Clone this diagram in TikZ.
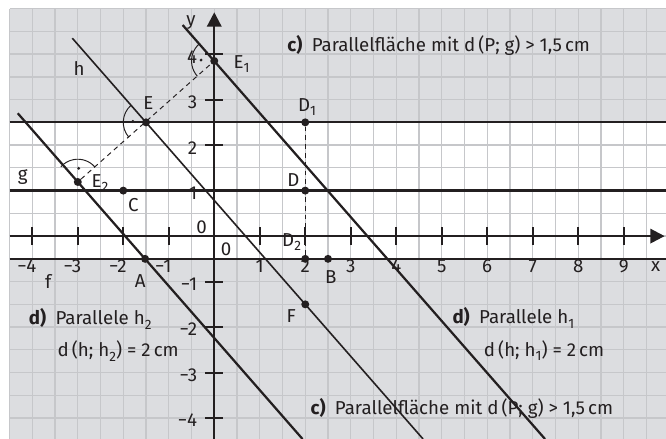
\documentclass[tikz,border=0pt]{standalone}
\usepackage{fontspec}
\setmainfont{Fira Sans}
\usetikzlibrary{arrows.meta, calc}
\definecolor{shadegray}{RGB}{220,221,224}
\definecolor{gridgray}{RGB}{198,199,202}
\definecolor{ink}{RGB}{35,31,32}
\newcommand{\idx}[1]{\raisebox{-0.45ex}{\fontsize{8.5}{8.5}\selectfont #1}}

\begin{document}
\begin{tikzpicture}[x=1cm, y=1cm,
  gridline/.style={gridgray, line width=0.8pt},
  bigline/.style={ink, line width=1.4pt},
  thinline/.style={ink, line width=1pt},
  axisline/.style={ink, line width=1.5pt},
  tickline/.style={ink, line width=1.3pt},
  helpline/.style={ink, line width=0.6pt, dash pattern=on 3pt off 2.5pt},
  rightangle/.style={ink, line width=0.6pt},
  pt/.style={circle, fill=ink, inner sep=0pt, minimum size=5pt},
  lbl/.style={font=\fontsize{11.7}{14}\selectfont, text=ink, inner sep=0pt}]
  \useasboundingbox (-4.71,-4.46) rectangle (9.93,5.19);
  % shaded half planes and grid
  \fill[shadegray] (-4.5,2.5) rectangle (9.93,5);
  \fill[shadegray] (-4.5,-4.46) rectangle (9.93,-0.5);
  \draw[gridline] (-4.5,-4.46) grid[step=0.5] (9.93,5);
  % axes
  \draw[axisline, -{Triangle[length=9pt, width=9pt]}] (-4.5,0) -- (9.9,0);
  \draw[axisline, -{Triangle[length=9pt, width=9pt]}] (0,-4.46) -- (0,4.92);
  \foreach \x in {-4,...,-1,1,2,...,9}
    \draw[tickline] (\x,-0.2) -- (\x,0.2);
  \foreach \y in {-4,...,-1,1,2,3,4}
    \draw[tickline] (-0.2,\y) -- (0.2,\y);
  \foreach \x in {1,...,9}
    \node[lbl] (xp\x) at (\x,-0.67) {\x};
  \foreach \x in {1,...,4}
    \node[lbl] (xn\x) at (-\x-0.12,-0.67) {−\x};
  \foreach \y in {1,...,4}
    \node[lbl, anchor=east] (yp\y) at (-0.37,\y-0.06) {\y};
  \foreach \y in {1,...,4}
    \node[lbl, anchor=east] (yn\y) at (-0.37,-\y-0.05) {−\y};
  \node[lbl] (zero1) at (-0.28,0.2) {0};
  \node[lbl] (zero2) at (0.26,-0.29) {0};
  \node[lbl] (xlab) at (9.7,-0.67) {x};
  \node[lbl] (ylab) at (-0.51,4.7) {y};
  % parallels g, f and border of the strip
  \draw[bigline] (-4.5,2.5) -- (9.93,2.5);
  \draw[bigline] (-4.5,1) -- (9.93,1);
  \draw[bigline] (-4.5,-0.5) -- (9.93,-0.5);
  % line h and its parallels h1, h2
  \coordinate (h-a) at (-3.12,4.35);
  \coordinate (h-b) at (4.59,-4.46);
  \coordinate (h1-a) at (-0.695,4.64);
  \coordinate (h1-b) at (7.27,-4.46);
  \coordinate (h2-a) at (-4.32,2.70);
  \coordinate (h2-b) at (1.94,-4.46);
  \draw[thinline] (h-a) -- (h-b);
  \draw[bigline] (h1-a) -- (h1-b);
  \draw[bigline] (h2-a) -- (h2-b);
  \node[lbl] (hlab) at (-2.97,3.69) {h};
  \node[lbl] (glab) at (-4.21,1.3) {g};
  \node[lbl] (flab) at (-3.65,-0.99) {f};
  % points
  \node[pt] (E) at (-1.5,2.5) {};
  \node[pt] (E1) at (0,3.85) {};
  \node[pt] (E2) at (-3,1.19) {};
  \node[pt] (A) at (-1.52,-0.5) {};
  \node[pt] (B) at (2.5,-0.5) {};
  \node[pt] (C) at (-2,1) {};
  \node[pt] (D) at (2,1) {};
  \node[pt] (D1) at (2,2.5) {};
  \node[pt] (D2) at (2,-0.5) {};
  \node[pt] (F) at (2,-1.5) {};
  \draw[helpline] (E2) -- (E1);
  \draw[helpline] (D1) -- (D2);
  % right angles
  \draw[rightangle] ($(E)+(131.2:0.5)$) arc[start angle=131.2, end angle=221.1, radius=0.5];
  \fill[ink] ($(E)+(176:0.29)$) circle (1pt);
  \draw[rightangle] ($(E1)+(131.2:0.5)$) arc[start angle=131.2, end angle=222, radius=0.5];
  \fill[ink] ($(E1)+(176:0.29)$) circle (1pt);
  \draw[rightangle] ($(E2)+(41.1:0.5)$) arc[start angle=41.1, end angle=138, radius=0.5];
  \fill[ink] ($(E2)+(86:0.3)$) circle (1pt);
  % point labels
  \node[lbl] (lE) at (-1.45,2.92) {E};
  \node[lbl] (lE1) at (0.6,3.78) {E\idx{1}};
  \node[lbl] (lE2) at (-2.51,1.16) {E\idx{2}};
  \node[lbl] (lA) at (-1.63,-0.99) {A};
  \node[lbl] (lB) at (2.56,-0.89) {B};
  \node[lbl] (lC) at (-1.78,0.68) {C};
  \node[lbl] (lD) at (1.74,1.23) {D};
  \node[lbl] (lD1) at (2.04,2.84) {D\idx{1}};
  \node[lbl] (lD2) at (1.7,-0.13) {D\idx{2}};
  \node[lbl] (lF) at (1.69,-1.75) {F};
  % task texts
  \node[lbl, anchor=west] (ctop) at (1.6,4.2) {\textbf{c)}\enspace Parallelfläche mit d\,(P; g) > 1,5\,cm};
  \node[lbl, anchor=west] (cbot) at (2.11,-3.78) {\textbf{c)}\enspace Parallelfläche mit d\,(P; g) > 1,5\,cm};
  \node[lbl, anchor=west] (dh2) at (-4.08,-1.82) {\textbf{d)}\enspace Parallele h\idx{2}};
  \node[lbl, anchor=west] (dh2b) at (-3.45,-2.53) {d\,(h; h\idx{2}) = 2\,cm};
  \node[lbl, anchor=west] (dh1) at (5.23,-1.8) {\textbf{d)}\enspace Parallele h\idx{1}};
  \node[lbl, anchor=west] (dh1b) at (5.92,-2.52) {d\,(h; h\idx{1}) = 2\,cm};
\end{tikzpicture}
\end{document}
